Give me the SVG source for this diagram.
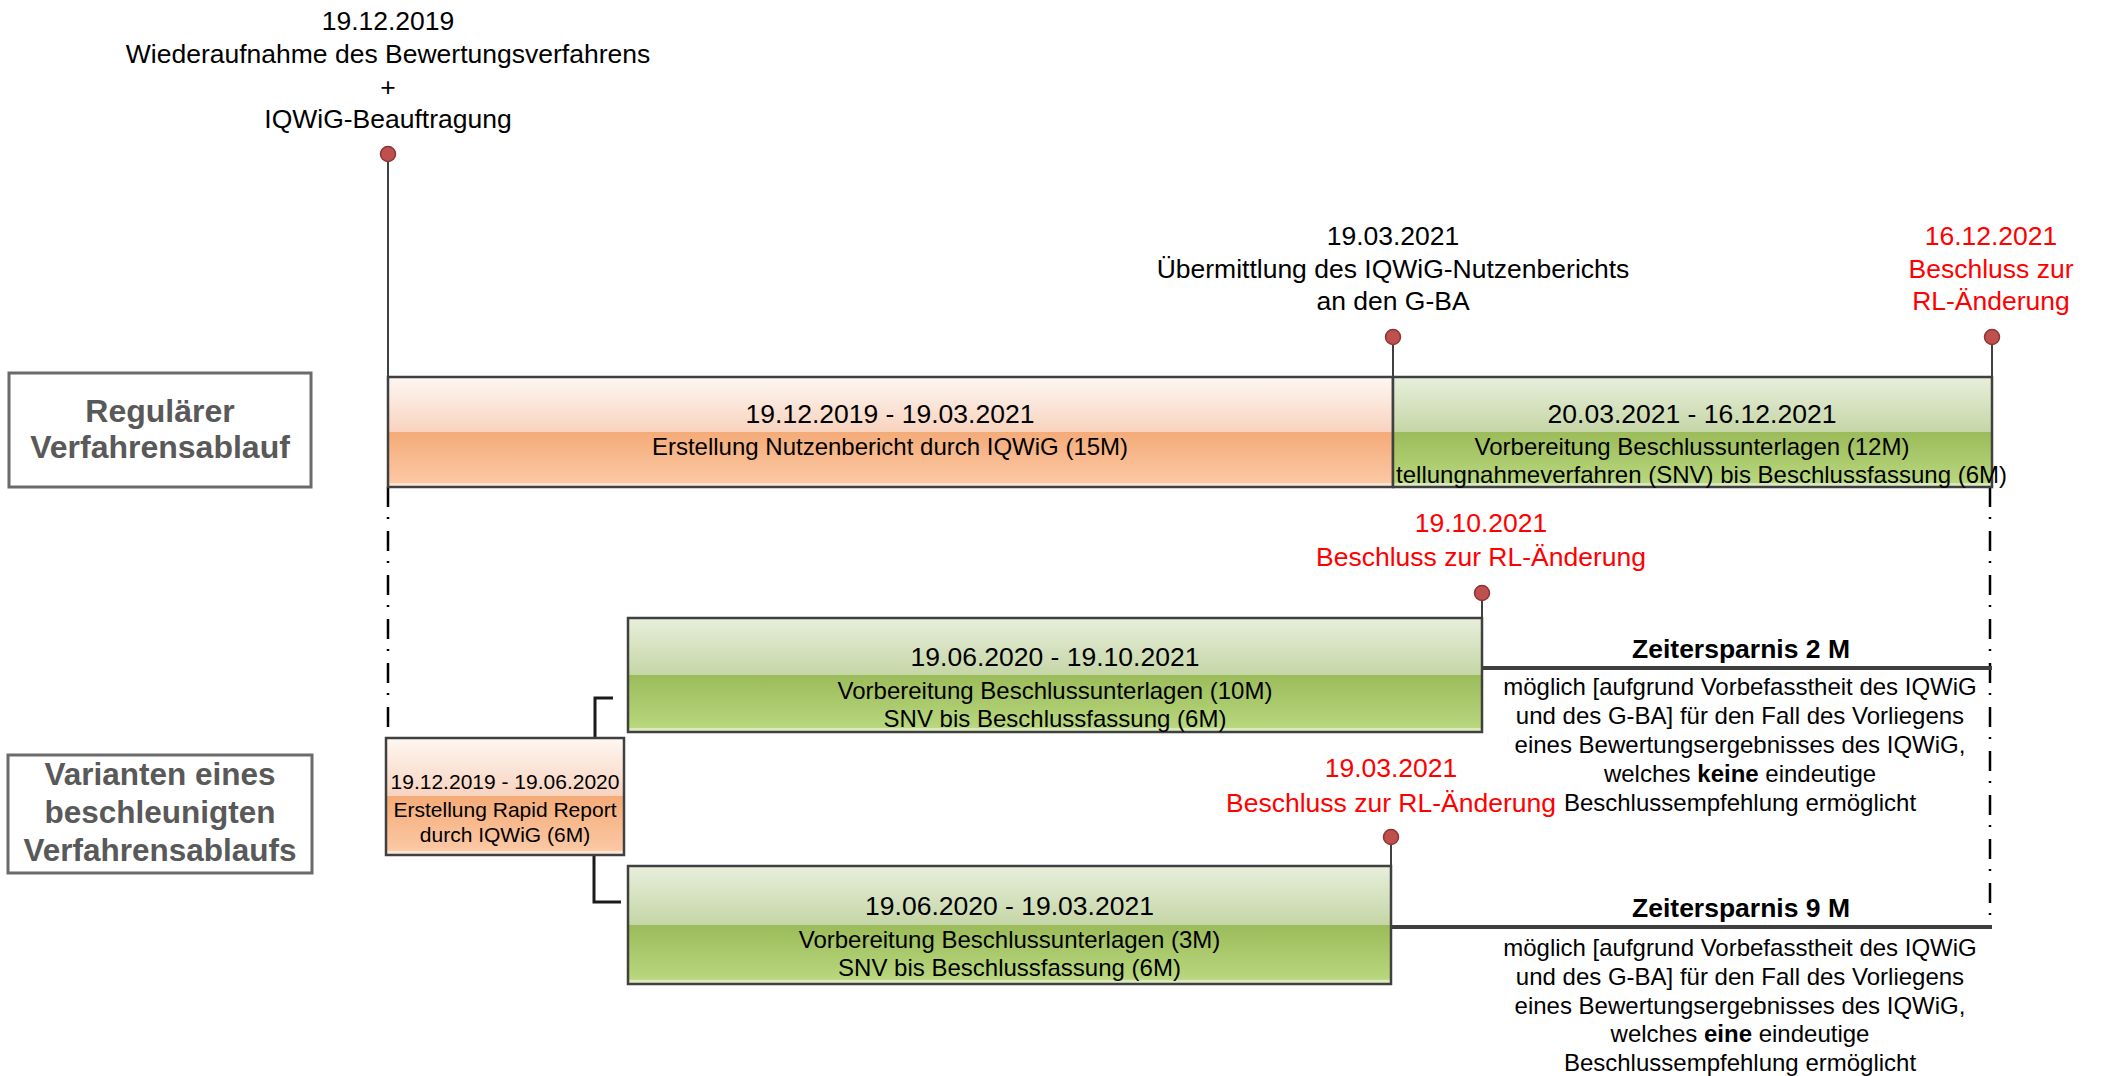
<svg xmlns="http://www.w3.org/2000/svg" width="2105" height="1076" viewBox="0 0 2105 1076">
<defs>
<linearGradient id="gO" x1="0" y1="0" x2="0" y2="1">
<stop offset="0" stop-color="#fef7f3"/><stop offset="0.5" stop-color="#f8d3be"/><stop offset="0.5" stop-color="#f4ab78"/><stop offset="0.96" stop-color="#fbc8a4"/><stop offset="0.97" stop-color="#fde5d5"/><stop offset="1" stop-color="#fde5d5"/>
</linearGradient>
<linearGradient id="gG" x1="0" y1="0" x2="0" y2="1">
<stop offset="0" stop-color="#e8efdc"/><stop offset="0.5" stop-color="#c5d6a6"/><stop offset="0.5" stop-color="#9cbb5a"/><stop offset="0.96" stop-color="#b8d77e"/><stop offset="0.97" stop-color="#dcebbf"/><stop offset="1" stop-color="#dcebbf"/>
</linearGradient>
</defs>
<style>
text{font-family:"Liberation Sans",Arial,sans-serif;text-anchor:middle;fill:#000}
.m{font-size:26.5px}
.r{fill:#ff0000}
.d{font-size:26.5px}
.s{font-size:24px}
.t{font-size:21px}
.b{font-weight:bold}
.lab{font-size:32px;font-weight:bold;fill:#595959}
.labbox{fill:#fff;stroke:#6b6b6b;stroke-width:3}
.bar{stroke:#404040;stroke-width:2.5}
.dot{fill:#c0504d;stroke:#8c3533;stroke-width:1.5}
.stem{stroke:#404040;stroke-width:2}
.dd{stroke:#000;stroke-width:2.5;stroke-dasharray:20 10 2 12;fill:none}
.br{stroke:#1a1a1a;stroke-width:3;fill:none}
.sv{stroke:#3f3f3f;stroke-width:4}
</style>
<rect width="2105" height="1076" fill="#fff"/>

<g id="label-regular">
<rect class="labbox" x="9" y="373" width="302" height="114"/>
<text class="lab" x="160" y="422">Regulärer</text>
<text class="lab" x="160" y="458">Verfahrensablauf</text>
</g>
<g id="label-variants">
<rect class="labbox" x="8" y="755" width="304" height="118"/>
<text class="lab" x="160" y="785" style="font-size:31.5px">Varianten eines</text>
<text class="lab" x="160" y="823" style="font-size:31.5px">beschleunigten</text>
<text class="lab" x="160" y="861" style="font-size:31.5px">Verfahrensablaufs</text>
</g>

<g id="connectors">
<line class="stem" x1="388" y1="161" x2="388" y2="377"/>
<line class="stem" x1="1393" y1="344" x2="1393" y2="377"/>
<line class="stem" x1="1992" y1="344" x2="1992" y2="377"/>
<line class="stem" x1="1482" y1="600" x2="1482" y2="618"/>
<line class="stem" x1="1391" y1="844" x2="1391" y2="866"/>
<line class="dd" x1="388" y1="487" x2="388" y2="736"/>
<line class="dd" x1="1990" y1="487" x2="1990" y2="928"/>
<path class="br" d="M595,738 V698 H613"/>
<path class="br" d="M594,855 V902 H621"/>
<line class="sv" x1="1482" y1="668" x2="1992" y2="668"/>
<line class="sv" x1="1391" y1="927" x2="1992" y2="927"/>
</g>

<g id="milestone-start">
<text class="m" x="388" y="30">19.12.2019</text>
<text class="m" x="388" y="63">Wiederaufnahme des Bewertungsverfahrens</text>
<text class="m" x="388" y="96">+</text>
<text class="m" x="388" y="128">IQWiG-Beauftragung</text>
<circle class="dot" cx="388" cy="154" r="7.5"/>
</g>

<g id="milestone-report">
<text class="m" x="1393" y="245">19.03.2021</text>
<text class="m" x="1393" y="278">Übermittlung des IQWiG-Nutzenberichts</text>
<text class="m" x="1393" y="310">an den G-BA</text>
<circle class="dot" cx="1393" cy="337" r="7.5"/>
</g>

<g id="milestone-regular-end">
<text class="m r" x="1991" y="245">16.12.2021</text>
<text class="m r" x="1991" y="278">Beschluss zur</text>
<text class="m r" x="1991" y="310">RL-Änderung</text>
<circle class="dot" cx="1992" cy="337" r="7.5"/>
</g>

<g id="bar-nutzenbericht">
<rect class="bar" x="388" y="377" width="1005" height="110" fill="url(#gO)"/>
<text class="d" x="890" y="423">19.12.2019 - 19.03.2021</text>
<text class="s" x="890" y="455">Erstellung Nutzenbericht durch IQWiG (15M)</text>
</g>

<g id="bar-beschluss-regular">
<rect class="bar" x="1393" y="377" width="599" height="110" fill="url(#gG)"/>
<text class="d" x="1692" y="423">20.03.2021 - 16.12.2021</text>
<text class="s" x="1692" y="455">Vorbereitung Beschlussunterlagen (12M)</text>
<text class="s" x="2007" y="483" style="text-anchor:end">tellungnahmeverfahren (SNV) bis Beschlussfassung (6M)</text>
</g>

<g id="bar-rapid-report">
<rect class="bar" x="386" y="738" width="238" height="117" fill="url(#gO)"/>
<text class="t" x="505" y="789">19.12.2019 - 19.06.2020</text>
<text class="t" x="505" y="817">Erstellung Rapid Report</text>
<text class="t" x="505" y="842">durch IQWiG (6M)</text>
</g>

<g id="bar-variant-1">
<rect class="bar" x="628" y="618" width="854" height="114" fill="url(#gG)"/>
<text class="d" x="1055" y="666">19.06.2020 - 19.10.2021</text>
<text class="s" x="1055" y="699">Vorbereitung Beschlussunterlagen (10M)</text>
<text class="s" x="1055" y="727">SNV bis Beschlussfassung (6M)</text>
</g>

<g id="milestone-variant-1">
<text class="m r" x="1481" y="532">19.10.2021</text>
<text class="m r" x="1481" y="566">Beschluss zur RL-Änderung</text>
<circle class="dot" cx="1482" cy="593" r="7.5"/>
</g>

<g id="saving-2">
<text class="m b" x="1741" y="658">Zeitersparnis 2 M</text>
<text class="s" x="1740" y="695">möglich [aufgrund Vorbefasstheit des IQWiG</text>
<text class="s" x="1740" y="724">und des G-BA] für den Fall des Vorliegens</text>
<text class="s" x="1740" y="753">eines Bewertungsergebnisses des IQWiG,</text>
<text class="s" x="1740" y="782">welches <tspan font-weight="bold">keine</tspan> eindeutige</text>
<text class="s" x="1740" y="811">Beschlussempfehlung ermöglicht</text>
</g>

<g id="bar-variant-2">
<rect class="bar" x="628" y="866" width="763" height="118" fill="url(#gG)"/>
<text class="d" x="1009.5" y="915">19.06.2020 - 19.03.2021</text>
<text class="s" x="1009.5" y="948">Vorbereitung Beschlussunterlagen (3M)</text>
<text class="s" x="1009.5" y="976">SNV bis Beschlussfassung (6M)</text>
</g>

<g id="milestone-variant-2">
<text class="m r" x="1391" y="777">19.03.2021</text>
<text class="m r" x="1391" y="812">Beschluss zur RL-Änderung</text>
<circle class="dot" cx="1391" cy="837" r="7.5"/>
</g>

<g id="saving-9">
<text class="m b" x="1741" y="917">Zeitersparnis 9 M</text>
<text class="s" x="1740" y="956">möglich [aufgrund Vorbefasstheit des IQWiG</text>
<text class="s" x="1740" y="985">und des G-BA] für den Fall des Vorliegens</text>
<text class="s" x="1740" y="1014">eines Bewertungsergebnisses des IQWiG,</text>
<text class="s" x="1740" y="1042">welches <tspan font-weight="bold">eine</tspan> eindeutige</text>
<text class="s" x="1740" y="1071">Beschlussempfehlung ermöglicht</text>
</g>
</svg>
